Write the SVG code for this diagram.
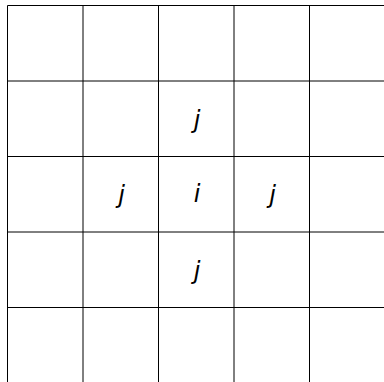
<svg xmlns="http://www.w3.org/2000/svg" width="384" height="382" viewBox="0 0 384 382">
<style>
.g{stroke:#000;stroke-width:1;fill:none}
.t{font-family:"DejaVu Sans",sans-serif;font-style:italic;font-size:24px;text-anchor:middle;fill:#000}
</style>
<rect width="384" height="382" fill="#fff"/>
<g id="grid" class="g">
<line x1="7.5" y1="5.5" x2="7.5" y2="382"/>
<line x1="83" y1="5.5" x2="83" y2="382"/>
<line x1="158.5" y1="5.5" x2="158.5" y2="382"/>
<line x1="234" y1="5.5" x2="234" y2="382"/>
<line x1="309.5" y1="5.5" x2="309.5" y2="382"/>
<line x1="7.5" y1="5.5" x2="384" y2="5.5"/>
<line x1="7.5" y1="81" x2="384" y2="81"/>
<line x1="7.5" y1="156.5" x2="384" y2="156.5"/>
<line x1="7.5" y1="232" x2="384" y2="232"/>
<line x1="7.5" y1="307.5" x2="384" y2="307.5"/>
</g>
<g id="labels" class="t">
<text x="197" y="128">j</text>
<text x="121.5" y="203">j</text>
<text x="197" y="202">i</text>
<text x="272.5" y="203">j</text>
<text x="197" y="278.5">j</text>
</g>
</svg>
